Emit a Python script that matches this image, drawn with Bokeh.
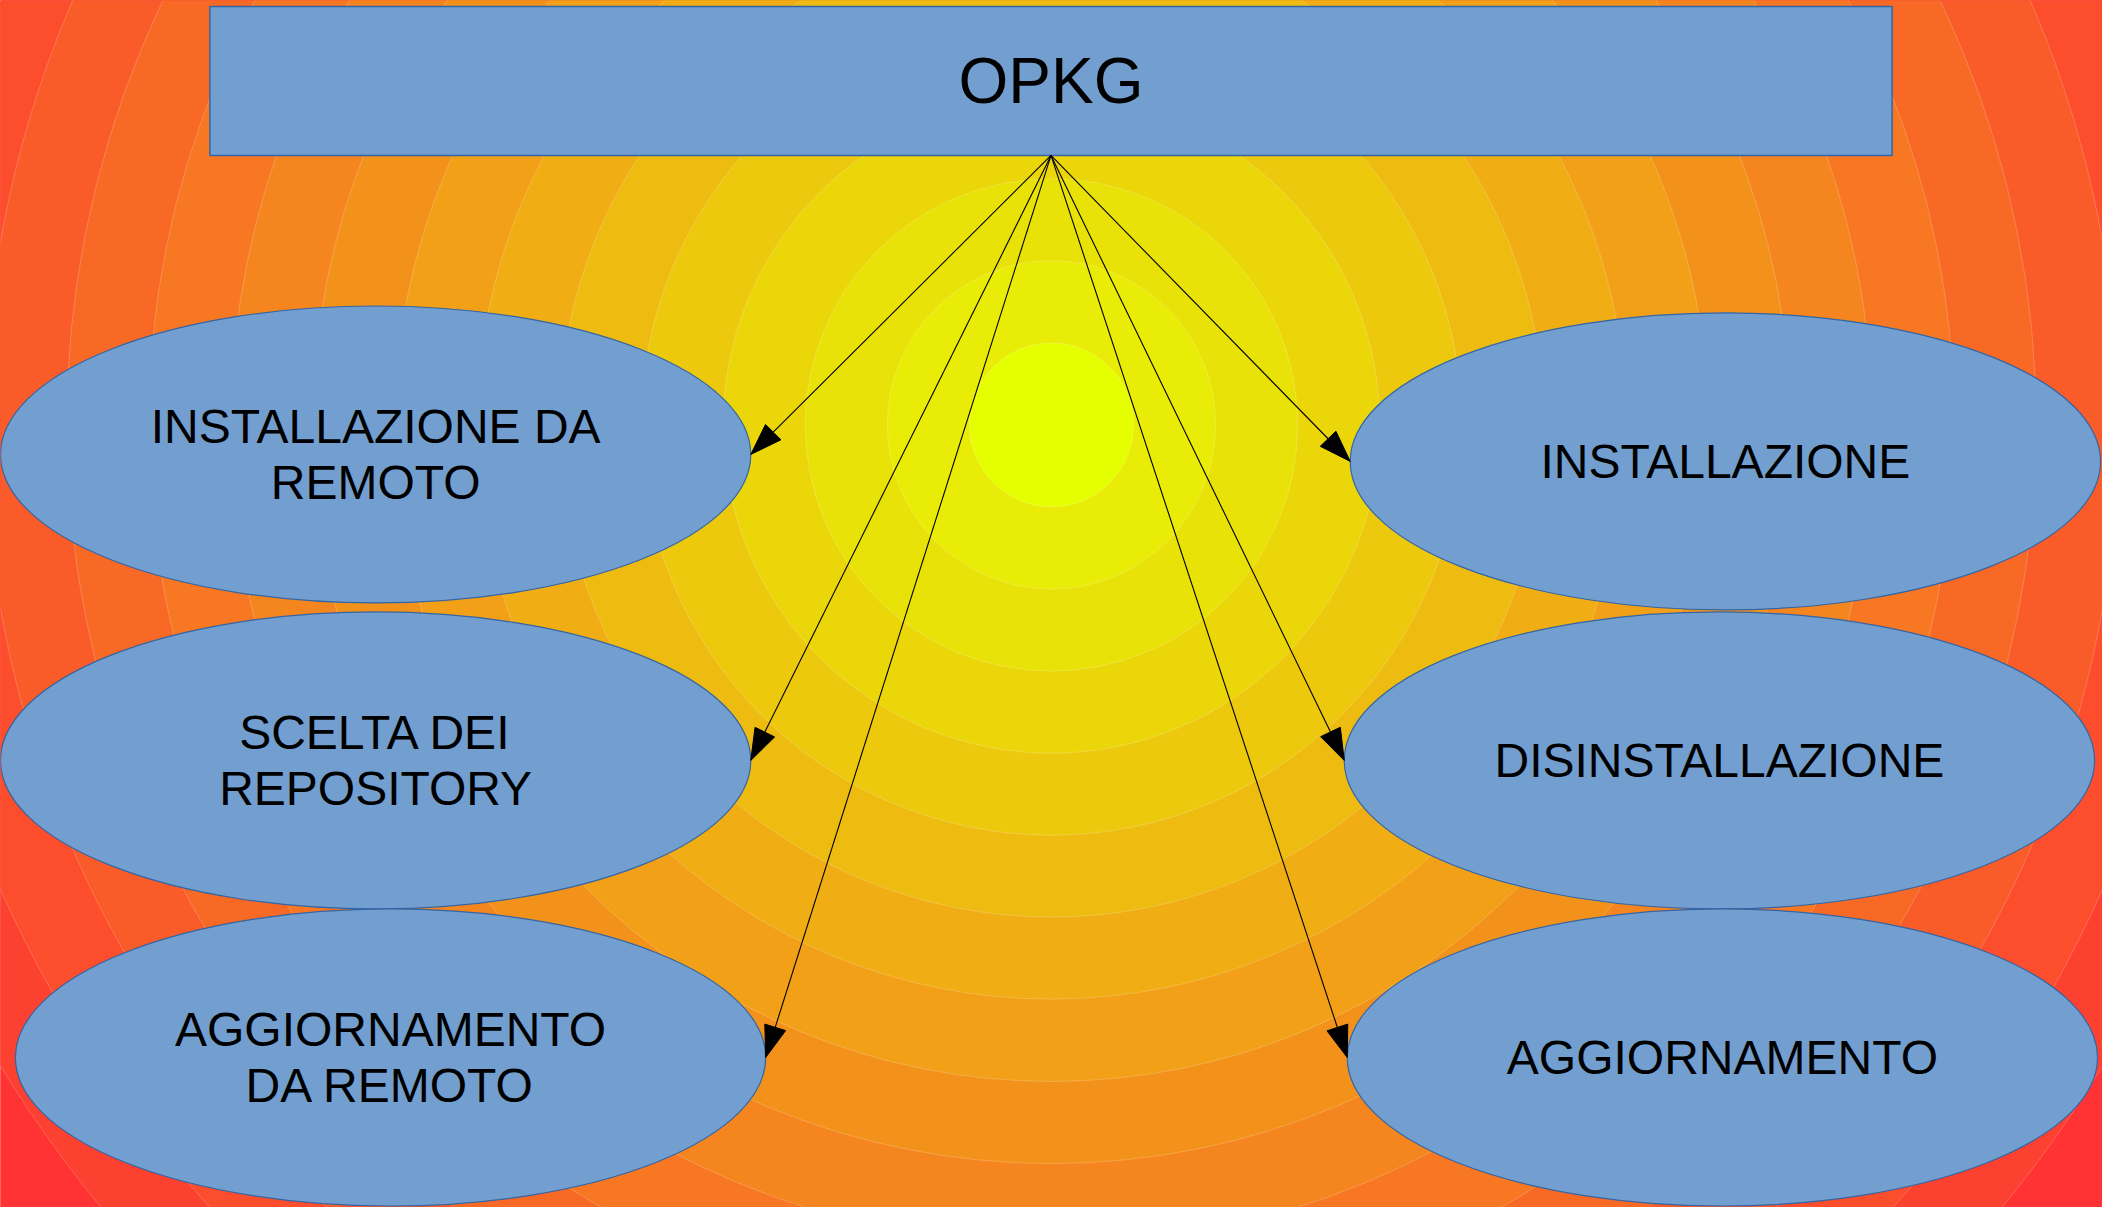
import numpy as np
from bokeh.plotting import figure
from bokeh.models import Range1d, ColumnDataSource
from bokeh.embed import file_html
from bokeh.resources import INLINE
from bokeh.core.properties import value

# ---------------- data ----------------
root_label = ["OPKG"]
root_x = [1058.5]
root_y = [81.5]
root_w = [1695]
root_h = [151]

node_labels = ["INSTALLAZIONE DA\nREMOTO", "SCELTA DEI\nREPOSITORY", "AGGIORNAMENTO\nDA REMOTO",
               "INSTALLAZIONE", "DISINSTALLAZIONE", "AGGIORNAMENTO"]
node_x = [378, 378, 393, 1738, 1732, 1735]
node_y = [460, 770, 1071, 467, 770, 1071]
node_side = ["left", "left", "left", "right", "right", "right"]
node_w = [756, 756, 756, 756, 756, 756]
node_h = [301, 301, 301, 301, 301, 301]

# background radial gradient (centre -> outside)
bg_center = (1059, 430)
ring_step = 82.7
ring_colors = ["#E6FF00", "#E9EC06", "#E9E208", "#EBD60A", "#EDC90E", "#EEBB11",
               "#F0AD14", "#F2A018", "#F3921B", "#F5851F", "#F77722", "#F86925",
               "#FA5C29", "#FC4E2C", "#FD4130", "#FF3333"]

W, H = 2118, 1223
p = figure(width=2102, height=1207, x_range=Range1d(0, W), y_range=Range1d(H, 0),
           output_backend="svg", toolbar_location=None, min_border=0,
           x_axis_location=None, y_axis_location=None)
p.grid.visible = False
p.outline_line_color = None
p.background_fill_color = ring_colors[-1]
p.border_fill_color = ring_colors[-1]

# rings, largest first
n = len(ring_colors)
radii = [(i + 1) * ring_step for i in range(n)]
ring_src = ColumnDataSource(dict(x=[bg_center[0]] * n, y=[bg_center[1]] * n,
                                 r=radii[::-1], c=ring_colors[::-1]))
p.circle(x="x", y="y", radius="r", fill_color="c", line_color=None, source=ring_src)
p.circle(x="x", y="y", radius="r", fill_color=None, line_color="white",
         line_alpha=0.2, line_width=1, source=ring_src)

# root box
p.rect(x=root_x, y=root_y, width=root_w, height=root_h,
       fill_color="#729FCF", line_color="#3465A4", line_width=1.5)
p.text(x=root_x, y=root_y, text=root_label, text_align="center", text_baseline="middle",
       text_font=value("Liberation Sans"), text_font_size="64px", text_color="black")

# ellipses
p.ellipse(x=node_x, y=node_y, width=node_w, height=node_h,
          fill_color="#729FCF", line_color="#3465A4", line_width=1.2)

# arrows from bottom centre of the root box to the near side of each ellipse
sx = root_x[0]
sy = root_y[0] + root_h[0] / 2
ex = np.array([x + w / 2 if s == "left" else x - w / 2
               for x, w, s in zip(node_x, node_w, node_side)], dtype=float)
ey = np.array(node_y, dtype=float)
dx, dy = ex - sx, ey - sy
ln = np.hypot(dx, dy)
ux, uy = dx / ln, dy / ln
head_len, head_w = 32, 22
bx, by = ex - head_len * ux, ey - head_len * uy
px, py = -uy, ux
p.segment(x0=[sx] * len(ex), y0=[sy] * len(ex), x1=bx, y1=by, line_color="black", line_width=1.1)
hx = [[ex[i], bx[i] + head_w / 2 * px[i], bx[i] - head_w / 2 * px[i]] for i in range(len(ex))]
hy = [[ey[i], by[i] + head_w / 2 * py[i], by[i] - head_w / 2 * py[i]] for i in range(len(ex))]
p.patches(xs=hx, ys=hy, fill_color="black", line_color="black", line_width=1)

# labels
p.text(x=node_x, y=node_y, text=node_labels, text_align="center", text_baseline="middle",
       text_font=value("Liberation Sans"), text_font_size="48px", text_line_height=1.07,
       text_color="black")

open("out.html", "w").write(file_html(p, INLINE))
